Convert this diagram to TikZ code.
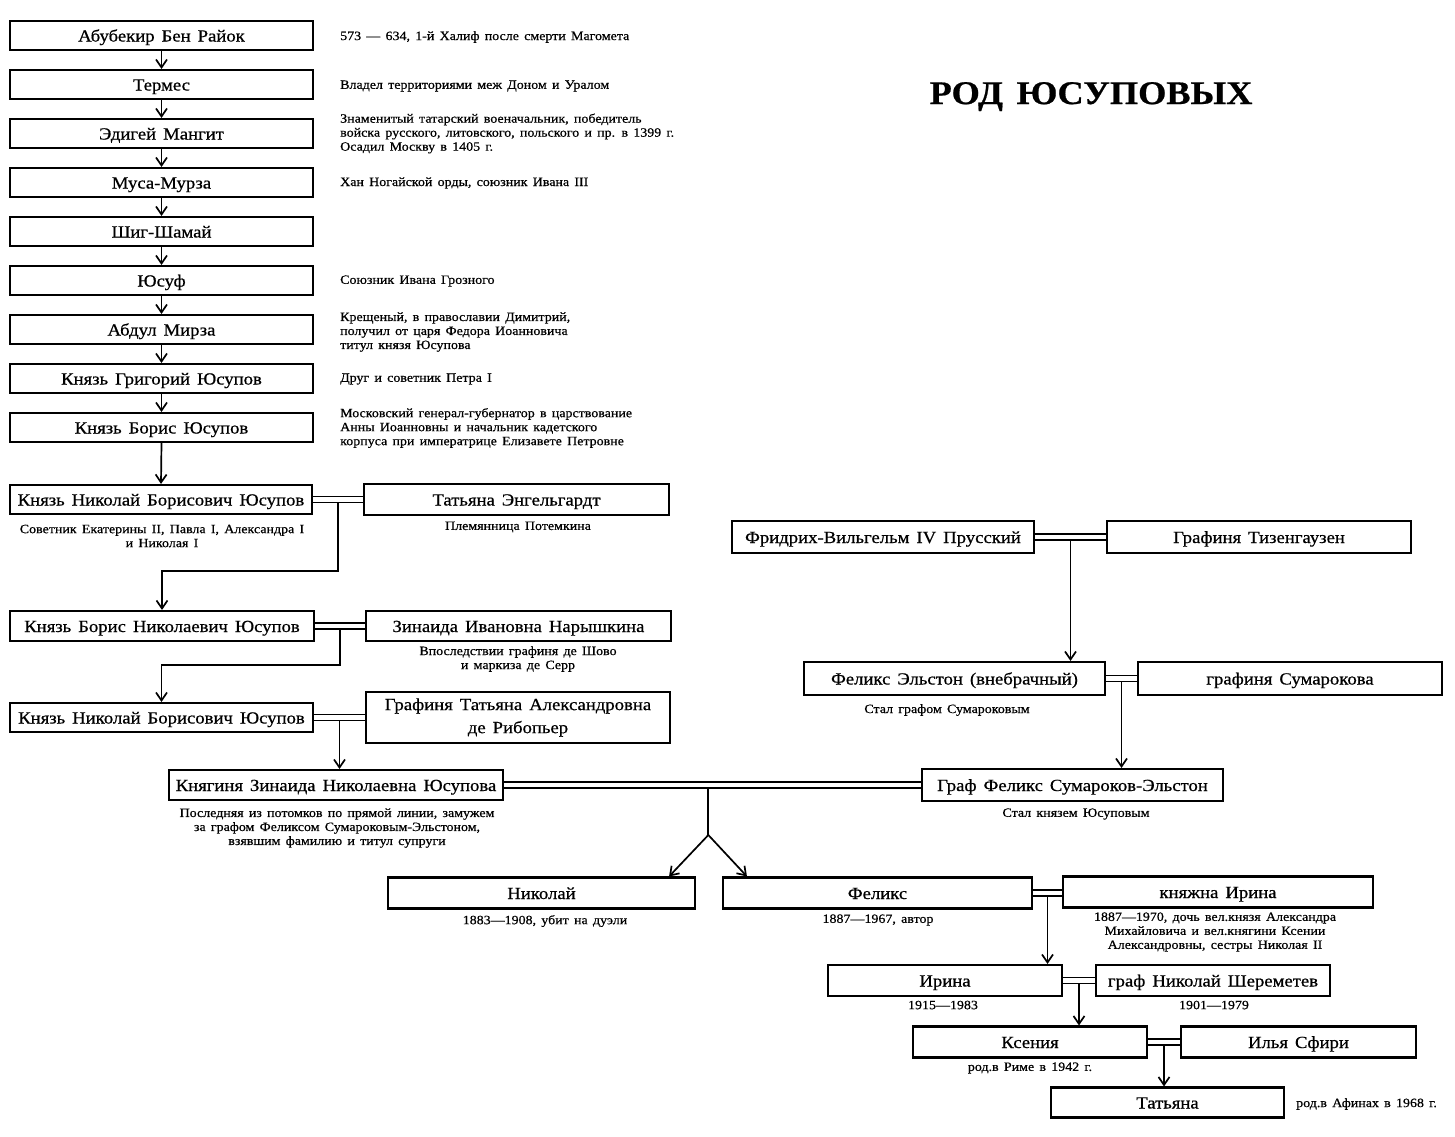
\documentclass[tikz,border=0pt]{standalone}
\usepackage{fontspec}
\setmainfont{Liberation Serif}[FakeStretch=1.1, WordSpace=1.5, FakeBold=0.6]
\usetikzlibrary{arrows.meta,calc}
\begin{document}
\begin{tikzpicture}[x=1pt,y=-1pt,
  box/.style={draw, line width=2.1pt, inner sep=0pt, font=\fontsize{17}{21}\selectfont, text height=14pt, text depth=2pt},
  box2/.style={draw, line width=2.1pt, inner sep=0pt, font=\fontsize{17}{23}\selectfont, align=center},
  note/.style={inner sep=0pt, font=\fontsize{12.7}{14}\selectfont},
  lnote/.style={note, anchor=west, align=left},
  cnote/.style={note, align=center},
  arr/.style={line width=1.7pt, -{Straight Barb[length=8pt,width=11pt,line width=1.7pt]}},
  con/.style={line width=1.7pt},
  marr/.style={line width=1.6pt, double, double distance=4.2pt}]
\useasboundingbox[fill=white] (0,0) rectangle (1455,1136);

% title
\node[font=\fontsize{33}{36}\selectfont\bfseries, anchor=base, inner sep=0pt] (title) at (1091,104) {РОД ЮСУПОВЫХ};

% left column
\node[box, minimum width=303, minimum height=29] (L1) at (161.5,35.5) {Абубекир Бен Райок};
\node[box, minimum width=303, minimum height=29] (L2) at (161.5,84.5) {Термес};
\node[box, minimum width=303, minimum height=29] (L3) at (161.5,133.5) {Эдигей Мангит};
\node[box, minimum width=303, minimum height=29] (L4) at (161.5,182.5) {Муса-Мурза};
\node[box, minimum width=303, minimum height=29] (L5) at (161.5,231.5) {Шиг-Шамай};
\node[box, minimum width=303, minimum height=29] (L6) at (161.5,280.5) {Юсуф};
\node[box, minimum width=303, minimum height=29] (L7) at (161.5,329.5) {Абдул Мирза};
\node[box, minimum width=303, minimum height=29] (L8) at (161.5,378.5) {Князь Григорий Юсупов};
\node[box, minimum width=303, minimum height=29] (L9) at (161.5,427.5) {Князь Борис Юсупов};

\foreach \a/\b in {L1/L2,L2/L3,L3/L4,L4/L5,L5/L6,L6/L7,L7/L8,L8/L9}
  \draw[arr] (\a.south) -- (\b.north);

\node[lnote] (nL1) at (340,37) {573 — 634, 1-й Халиф после смерти Магомета};
\node[lnote] (nL2) at (340,86) {Владел территориями меж Доном и Уралом};
\node[lnote] (nL3) at (340,133.5) {Знаменитый татарский военачальник, победитель\\войска русского, литовского, польского и пр. в 1399 г.\\Осадил Москву в 1405 г.};
\node[lnote] (nL4) at (340,183) {Хан Ногайской орды, союзник Ивана III};
\node[lnote] (nL6) at (340,281) {Союзник Ивана Грозного};
\node[lnote] (nL7) at (340,332) {Крещеный, в православии Димитрий,\\получил от царя Федора Иоанновича\\титул князя Юсупова};
\node[lnote] (nL8) at (340,379) {Друг и советник Петра I};
\node[lnote] (nL9) at (340,428) {Московский генерал-губернатор в царствование\\Анны Иоанновны и начальник кадетского\\корпуса при императрице Елизавете Петровне};

% row 10
\node[box, minimum width=302, minimum height=29] (N1) at (161,499.5) {Князь Николай Борисович Юсупов};
\node[box, minimum width=305, minimum height=31] (TE) at (516.5,499.5) {Татьяна Энгельгардт};
\draw[arr] (L9.south) -- (N1.north);
\node[cnote] (nN1) at (162,536) {Советник Екатерины II, Павла I, Александра I\\и Николая I};
\node[cnote] (nTE) at (518,527) {Племянница Потемкина};

% row 11
\node[box, minimum width=304, minimum height=30] (B2) at (162,626) {Князь Борис Николаевич Юсупов};
\node[box, minimum width=305, minimum height=30] (ZN) at (518.5,626) {Зинаида Ивановна Нарышкина};
\node[cnote] (nZN) at (518,659) {Впоследствии графиня де Шово\\и маркиза де Серр};

% row 12
\node[box, minimum width=303, minimum height=29] (N3) at (161.5,717.5) {Князь Николай Борисович Юсупов};
\node[box2, minimum width=304, minimum height=51] (TR) at (518,717.5) {Графиня Татьяна Александровна\\де Рибопьер};

% row 13
\node[box, minimum width=334, minimum height=30] (KZ) at (336,785) {Княгиня Зинаида Николаевна Юсупова};
\node[box, minimum width=301, minimum height=32] (GF) at (1072.5,785) {Граф Феликс Сумароков-Эльстон};
\node[cnote] (nKZ) at (337,828) {Последняя из потомков по прямой линии, замужем\\за графом Феликсом Сумароковым-Эльстоном,\\взявшим фамилию и титул супруги};
\node[cnote] (nGF) at (1076,814) {Стал князем Юсуповым};

% Prussian
\node[box, minimum width=302, minimum height=32] (FW) at (883,537) {Фридрих-Вильгельм IV Прусский};
\node[box, minimum width=304, minimum height=32] (GT) at (1259,537) {Графиня Тизенгаузен};
\node[box, minimum width=301, minimum height=33] (FE) at (954.5,678.5) {Феликс Эльстон (внебрачный)};
\node[box, minimum width=304, minimum height=33] (GS) at (1290,678.5) {графиня Сумарокова};
\node[cnote] (nFE) at (947,710) {Стал графом Сумароковым};

% children
\node[box, minimum width=307, minimum height=31] (NK) at (541.5,893) {Николай};
\node[box, minimum width=309, minimum height=31] (FX) at (877.5,893) {Феликс};
\node[box, minimum width=310, minimum height=31] (KI) at (1218,892) {княжна Ирина};
\node[cnote] (nNK) at (545,921) {1883—1908, убит на дуэли};
\node[cnote] (nFX) at (878,920) {1887—1967, автор};
\node[cnote] (nKI) at (1215,932) {1887—1970, дочь вел.князя Александра\\Михайловича и вел.княгини Ксении\\Александровны, сестры Николая II};

\node[box, minimum width=234, minimum height=31] (IR) at (945,980.5) {Ирина};
\node[box, minimum width=234, minimum height=31] (SH) at (1213,980.5) {граф Николай Шереметев};
\node[cnote] (nIR) at (943,1005) {1915—1983};
\node[cnote] (nSH) at (1214,1005) {1901—1979};

\node[box, minimum width=234, minimum height=31] (KS) at (1030,1042) {Ксения};
\node[box, minimum width=235, minimum height=31] (IS) at (1298.5,1042) {Илья Сфири};
\node[cnote] (nKS) at (1030,1068) {род.в Риме в 1942 г.};

\node[box, minimum width=233, minimum height=30] (TT) at (1167.5,1102.5) {Татьяна};
\node[lnote] (nTT) at (1296,1104) {род.в Афинах в 1968 г.};

% marriages
\draw[marr] (N1.east) -- (TE.west);
\draw[marr] (B2.east) -- (ZN.west);
\draw[marr] (N3.east) -- (N3.east -| TR.west);
\draw[marr] (KZ.east) -- (GF.west);
\draw[marr] (FW.east) -- (GT.west);
\draw[marr] (FE.east) -- (GS.west);
\draw[marr] (FX.east) -- (FX.east -| KI.west);
\draw[marr] (IR.east) -- (SH.west);
\draw[marr] (KS.east) -- (IS.west);

\coordinate (m1) at ([yshift=-3pt]$(N1.east)!0.5!(TE.west)$);
\coordinate (m2) at ([yshift=-3pt]$(B2.east)!0.5!(ZN.west)$);
\coordinate (m3) at ([yshift=-3pt]$(N3.east)!0.5!(N3.east -| TR.west)$);
\coordinate (mz) at ([yshift=-3pt]$(KZ.east)!0.49!(GF.west)$);
\coordinate (mp) at ([yshift=-3pt]$(FW.east)!0.5!(GT.west)$);
\coordinate (me) at ([yshift=-3pt]$(FE.east)!0.5!(GS.west)$);
\coordinate (mf) at ([yshift=-3pt]$(FX.east)!0.5!(FX.east -| KI.west)$);
\coordinate (mi) at ([yshift=-3pt]$(IR.east)!0.5!(SH.west)$);
\coordinate (mk) at ([yshift=-3pt]$(KS.east)!0.5!(IS.west)$);

% descent
\draw[arr] (m1) |- ([yshift=39pt]B2.north) -- (B2.north);
\draw[arr] (m2) |- ([yshift=37pt]N3.north) -- (N3.north);
\draw[arr] (m3) -- (m3 |- KZ.north);
\coordinate (fork) at ($(mz)+(0,47)$);
\draw[con] (mz) -- (fork);
\draw[arr] (fork) -- ([xshift=-27pt]NK.north east);
\draw[arr] (fork) -- ([xshift=25pt]FX.north west);
\draw[arr] (mp) -- (mp |- FE.north);
\draw[arr] (me) -- (me |- GF.north);
\draw[arr] (mf) -- (mf |- IR.north);
\draw[arr] (mi) -- (mi |- KS.north);
\draw[arr] (mk) -- (mk |- TT.north);
\end{tikzpicture}
\end{document}
